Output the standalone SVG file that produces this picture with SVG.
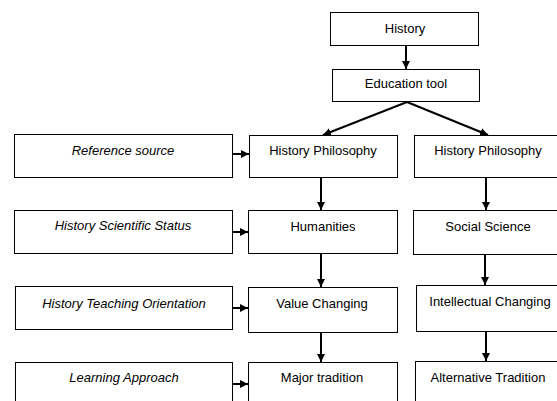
<svg xmlns="http://www.w3.org/2000/svg" width="557" height="401" viewBox="0 0 557 401">
<style>
.box{fill:#fff;stroke:#000;stroke-width:1}
.t{font-family:"Liberation Sans",Arial,sans-serif;font-size:13px;fill:#000;text-anchor:middle}
.i{font-style:italic}
.c{stroke:#000;stroke-width:2;fill:none;marker-end:url(#ah)}
</style>
<defs>
<marker id="ah" markerUnits="userSpaceOnUse" markerWidth="9" markerHeight="9" refX="8" refY="4" orient="auto">
<path d="M0,0 L8,4 L0,8 z" fill="#000"/>
</marker>
</defs>
<rect width="557" height="401" fill="#fff"/>
<g id="n-history"><rect class="box" x="330.5" y="12.5" width="148" height="33"/><text class="t" x="405" y="33">History</text></g>
<g id="n-education"><rect class="box" x="332.5" y="69.5" width="147" height="32"/><text class="t" x="406" y="88">Education tool</text></g>
<g id="n-ref"><rect class="box" x="14.5" y="134.5" width="218" height="43"/><text class="t i" x="123" y="155">Reference source</text></g>
<g id="n-hp1"><rect class="box" x="249.5" y="135.5" width="148" height="42"/><text class="t" x="323" y="155">History Philosophy</text></g>
<g id="n-hp2"><rect class="box" x="414.5" y="135.5" width="150" height="42"/><text class="t" x="488" y="155">History Philosophy</text></g>
<g id="n-hss"><rect class="box" x="14.5" y="210.5" width="218" height="43"/><text class="t i" x="123" y="230">History Scientific Status</text></g>
<g id="n-hum"><rect class="box" x="248.5" y="210.5" width="149" height="43"/><text class="t" x="323" y="231">Humanities</text></g>
<g id="n-soc"><rect class="box" x="413.5" y="210.5" width="150" height="44"/><text class="t" x="488" y="231">Social Science</text></g>
<g id="n-hto"><rect class="box" x="15.5" y="286.5" width="217" height="43"/><text class="t i" x="124" y="308">History Teaching Orientation</text></g>
<g id="n-val"><rect class="box" x="248.5" y="287.5" width="149" height="45"/><text class="t" x="322" y="308">Value Changing</text></g>
<g id="n-int"><rect class="box" x="416.5" y="285.5" width="150" height="46"/><text class="t" x="490" y="306">Intellectual Changing</text></g>
<g id="n-la"><rect class="box" x="15.5" y="362.5" width="217" height="50"/><text class="t i" x="124" y="382">Learning Approach</text></g>
<g id="n-maj"><rect class="box" x="248.5" y="362.5" width="149" height="50"/><text class="t" x="322" y="382">Major tradition</text></g>
<g id="n-alt"><rect class="box" x="415.5" y="361.5" width="150" height="50"/><text class="t" x="488" y="382">Alternative Tradition</text></g>
<g id="connectors">
<line class="c" x1="406" y1="45.5" x2="406" y2="69"/>
<line class="c" x1="407" y1="102" x2="323" y2="135"/>
<line class="c" x1="407" y1="102" x2="488" y2="135"/>
<line class="c" x1="232.5" y1="154" x2="249" y2="154"/>
<line class="c" x1="232.5" y1="232" x2="248" y2="232"/>
<line class="c" x1="232.5" y1="308" x2="248" y2="308"/>
<line class="c" x1="232.5" y1="384" x2="248" y2="384"/>
<line class="c" x1="321" y1="178" x2="321" y2="210"/>
<line class="c" x1="486" y1="178" x2="486" y2="210"/>
<line class="c" x1="321" y1="254" x2="321" y2="287"/>
<line class="c" x1="485" y1="255" x2="485" y2="285"/>
<line class="c" x1="321" y1="333" x2="321" y2="362"/>
<line class="c" x1="486" y1="332" x2="486" y2="361"/>
</g>
</svg>
